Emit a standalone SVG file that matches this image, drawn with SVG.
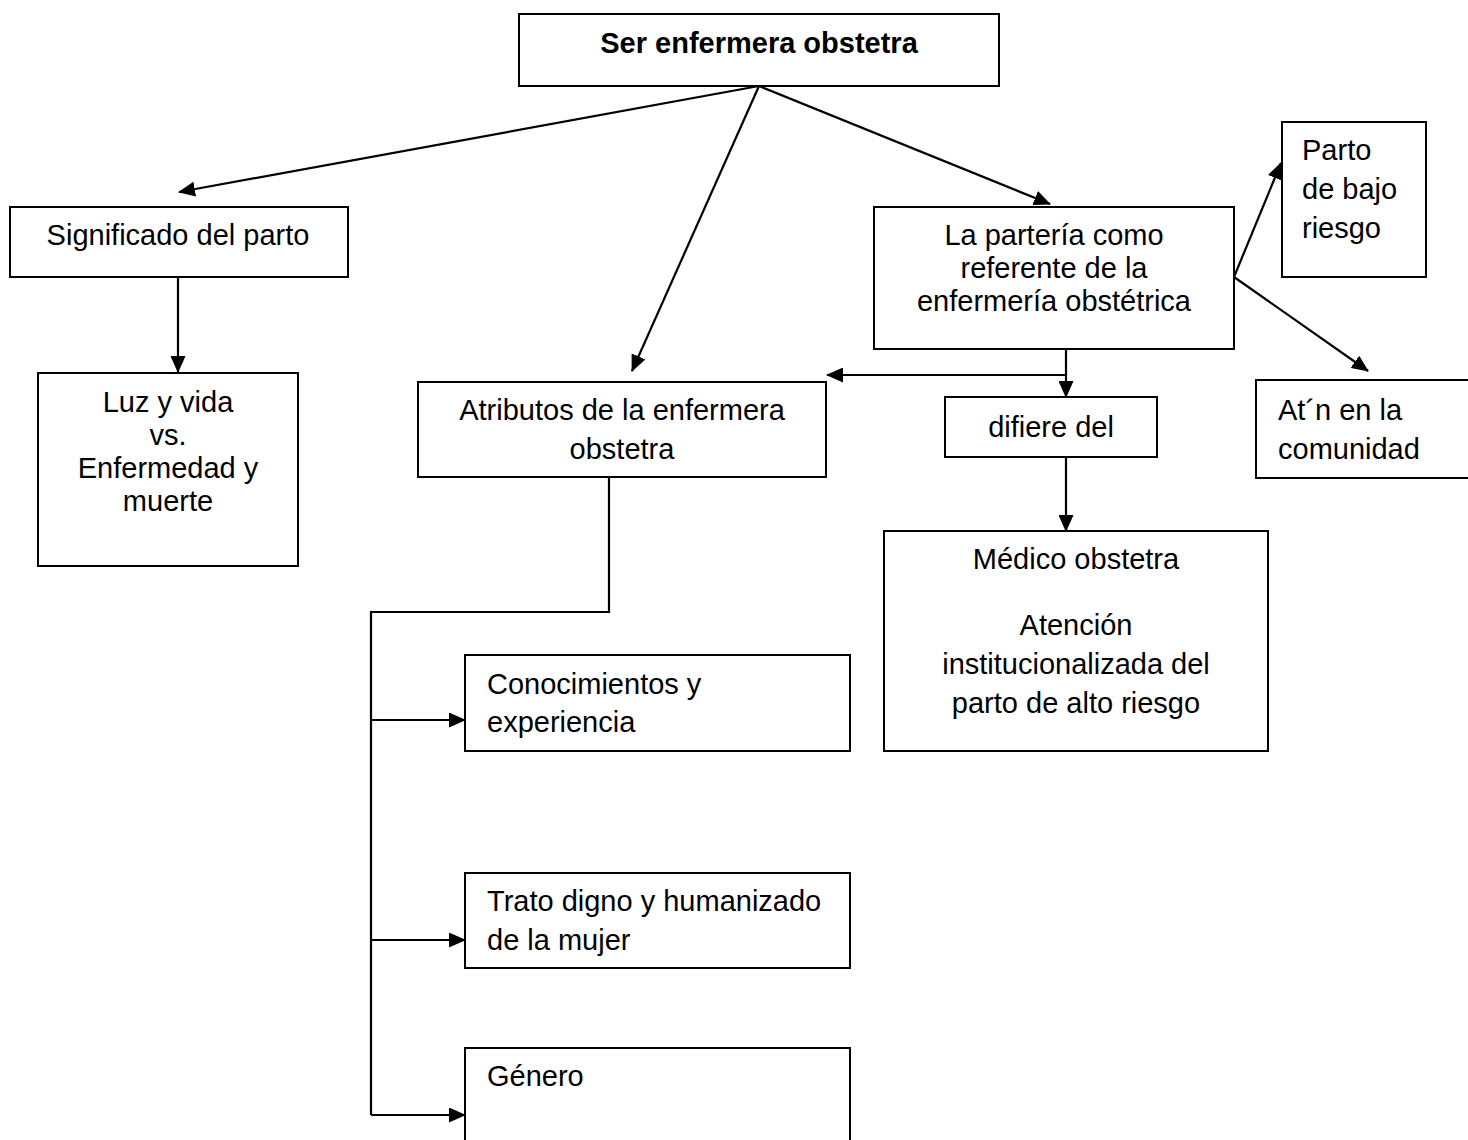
<svg xmlns="http://www.w3.org/2000/svg" width="1468" height="1140" viewBox="0 0 1468 1140">
  <style>
    .box { fill: #ffffff; stroke: #000000; stroke-width: 2; }
    .t { font-family: "Liberation Sans", Arial, sans-serif; font-size: 29px; fill: #000000; }
    .c { text-anchor: middle; }
    .b { font-weight: bold; }
    .ln { fill: none; stroke: #000000; stroke-width: 2.2; }
    .arr { marker-end: url(#head); }
  </style>
  <defs>
    <!-- solid triangular arrowhead, tip sits on the line end -->
    <marker id="head" viewBox="0 0 17 15" refX="16" refY="7.5" markerWidth="17" markerHeight="15" markerUnits="userSpaceOnUse" orient="auto">
      <path d="M0,0 L17,7.5 L0,15 Z" fill="#000000"/>
    </marker>
  </defs>
  <rect width="1468" height="1140" fill="#ffffff"/>

  <g id="connectors">
    <line class="ln arr" x1="759" y1="86" x2="179" y2="192"/>
    <line class="ln arr" x1="759" y1="86" x2="632" y2="371"/>
    <line class="ln arr" x1="759" y1="86" x2="1050" y2="204"/>
    <line class="ln arr" x1="178" y1="277" x2="178" y2="372"/>
    <line class="ln arr" x1="1066" y1="345" x2="1066" y2="397"/>
    <line class="ln arr" x1="1066" y1="375" x2="827" y2="375"/>
    <line class="ln arr" x1="1066" y1="457" x2="1066" y2="531"/>
    <line class="ln arr" x1="1234" y1="277" x2="1281" y2="163"/>
    <line class="ln arr" x1="1234" y1="277" x2="1368" y2="371"/>
    <polyline class="ln" points="609,477 609,612 371,612 371,1115"/>
    <line class="ln arr" x1="371" y1="720" x2="465" y2="720"/>
    <line class="ln arr" x1="371" y1="940" x2="465" y2="940"/>
    <line class="ln arr" x1="371" y1="1115" x2="465" y2="1115"/>
  </g>

  <g id="ser-enfermera">
    <rect class="box" x="519" y="14" width="480" height="72"/>
    <text class="t c b" x="759" y="53">Ser enfermera obstetra</text>
  </g>
  <g id="significado">
    <rect class="box" x="10" y="207" width="338" height="70"/>
    <text class="t c" x="178" y="245">Significado del parto</text>
  </g>
  <g id="luz-vida">
    <rect class="box" x="38" y="373" width="260" height="193"/>
    <text class="t c" x="168" y="412">Luz y vida</text>
    <text class="t c" x="168" y="445">vs.</text>
    <text class="t c" x="168" y="478">Enfermedad y</text>
    <text class="t c" x="168" y="511">muerte</text>
  </g>
  <g id="parteria">
    <rect class="box" x="874" y="207" width="360" height="142"/>
    <text class="t c" x="1054" y="245">La partería como</text>
    <text class="t c" x="1054" y="278">referente de la</text>
    <text class="t c" x="1054" y="311">enfermería obstétrica</text>
  </g>
  <g id="bajo-riesgo">
    <rect class="box" x="1282" y="122" width="144" height="155"/>
    <text class="t" x="1302" y="160">Parto</text>
    <text class="t" x="1302" y="199">de bajo</text>
    <text class="t" x="1302" y="238">riesgo</text>
  </g>
  <g id="comunidad">
    <rect class="box" x="1256" y="380" width="220" height="98"/>
    <text class="t" x="1278" y="420">At´n en  la</text>
    <text class="t" x="1278" y="459">comunidad</text>
  </g>
  <g id="atributos">
    <rect class="box" x="418" y="382" width="408" height="95"/>
    <text class="t c" x="622" y="420">Atributos de la enfermera</text>
    <text class="t c" x="622" y="459">obstetra</text>
  </g>
  <g id="difiere">
    <rect class="box" x="945" y="397" width="212" height="60"/>
    <text class="t c" x="1051" y="437">difiere del</text>
  </g>
  <g id="medico">
    <rect class="box" x="884" y="531" width="384" height="220"/>
    <text class="t c" x="1076" y="569">Médico obstetra</text>
    <text class="t c" x="1076" y="635">Atención</text>
    <text class="t c" x="1076" y="674">institucionalizada del</text>
    <text class="t c" x="1076" y="713">parto de alto riesgo</text>
  </g>
  <g id="conocimientos">
    <rect class="box" x="465" y="655" width="385" height="96"/>
    <text class="t" x="487" y="694">Conocimientos y</text>
    <text class="t" x="487" y="732">experiencia</text>
  </g>
  <g id="trato">
    <rect class="box" x="465" y="873" width="385" height="95"/>
    <text class="t" x="487" y="911">Trato digno y humanizado</text>
    <text class="t" x="487" y="950">de la mujer</text>
  </g>
  <g id="genero">
    <rect class="box" x="465" y="1048" width="385" height="110"/>
    <text class="t" x="487" y="1086">Género</text>
  </g>
</svg>
